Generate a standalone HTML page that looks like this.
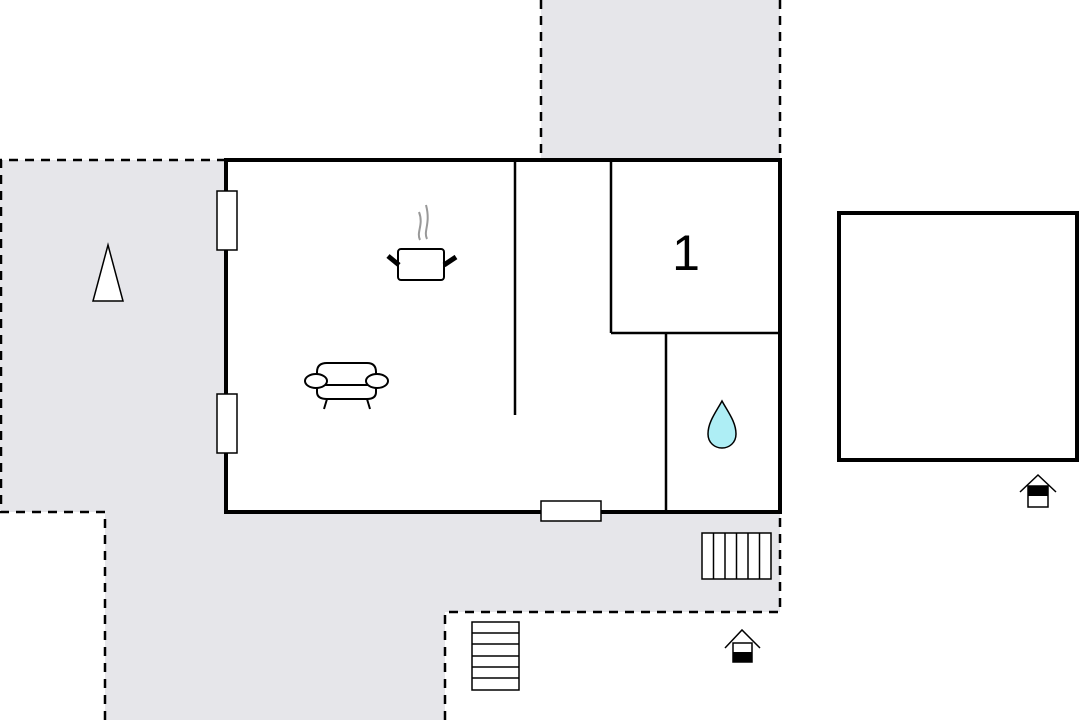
<!DOCTYPE html>
<html><head><meta charset="utf-8"><style>html,body{margin:0;padding:0;background:#fff}svg{display:block}</style></head>
<body>
<svg width="1080" height="720" viewBox="0 0 1080 720" xmlns="http://www.w3.org/2000/svg">
<g fill="#e6e6ea" stroke="none">
<rect x="541" y="0" width="239" height="162"/>
<polygon points="0,160 226,160 226,512 780,512 780,612 445,612 445,720 105,720 105,512 0,512"/>
</g>
<g fill="none" stroke="#000" stroke-width="2.5" stroke-dasharray="9,7">
<line x1="541" y1="0" x2="541" y2="160"/>
<line x1="780" y1="0" x2="780" y2="160"/>
<polyline points="226,160 1,160 1,512 105,512 105,720"/>
<polyline points="445,720 445,612 780,612 780,512"/>
</g>
<rect x="226" y="160" width="554" height="352" fill="#fff" stroke="#000" stroke-width="4"/>
<g stroke="#000" stroke-width="2.5">
<line x1="515" y1="160" x2="515" y2="415"/>
<line x1="611" y1="160" x2="611" y2="333"/>
<line x1="611" y1="333" x2="780" y2="333"/>
<line x1="666" y1="333" x2="666" y2="512"/>
</g>
<g fill="#fff" stroke="#000" stroke-width="1.5">
<rect x="217" y="191" width="20" height="59"/>
<rect x="217" y="394" width="20" height="59"/>
<rect x="541" y="501" width="60" height="20"/>
</g>
<text x="686" y="270" font-family="Liberation Sans, sans-serif" font-size="50" text-anchor="middle">1</text>
<path d="M722,401 C716,412 708,422 708,434 C708,443 715,448 722,448 C729,448 736,443 736,434 C736,422 728,412 722,401 Z" fill="#aeeef5" stroke="#000" stroke-width="1.5"/>
<rect x="839" y="213" width="238" height="247" fill="#fff" stroke="#000" stroke-width="4"/>
<g fill="#fff" stroke="#000" stroke-width="1.5">
<rect x="702" y="533" width="69" height="46"/>
<line x1="713.5" y1="533" x2="713.5" y2="579"/><line x1="725" y1="533" x2="725" y2="579"/><line x1="736.5" y1="533" x2="736.5" y2="579"/><line x1="748" y1="533" x2="748" y2="579"/><line x1="759.5" y1="533" x2="759.5" y2="579"/>
<rect x="472" y="622" width="47" height="68"/>
<line x1="472" y1="633" x2="519" y2="633"/><line x1="472" y1="644" x2="519" y2="644"/><line x1="472" y1="656" x2="519" y2="656"/><line x1="472" y1="667" x2="519" y2="667"/><line x1="472" y1="678" x2="519" y2="678"/>
<polygon points="108,245 123,301 93,301"/>
</g>
<g fill="none" stroke="#000" stroke-width="1.5">
<path d="M1020,492 L1038,475 L1056,492"/>
<rect x="1028" y="486" width="20" height="21" fill="#fff"/>
<path d="M725,648 L742,630 L760,648"/>
<rect x="733" y="643" width="19" height="19" fill="#fff"/>
</g>
<rect x="1028" y="486" width="20" height="10" fill="#000"/>
<rect x="733" y="652" width="19" height="10" fill="#000"/>
<g fill="none" stroke="#999" stroke-width="2">
<path d="M420,240 C416,232 424,225 419,212 M427,239 C423,231 431,224 426,205"/>
</g>
<rect x="398" y="249" width="46" height="31" rx="3" fill="#fff" stroke="#000" stroke-width="2"/>
<g stroke="#000" stroke-width="5" stroke-linecap="butt"><line x1="388" y1="256" x2="399" y2="265"/><line x1="456" y1="257" x2="444" y2="265"/></g>
<g fill="#fff" stroke="#000" stroke-width="2">
<path d="M317,388 L317,372 Q317,363 327,363 L367,363 Q376,363 376,372 L376,388"/>
<path d="M317,385 L317,392 Q317,399 327,399 L367,399 Q376,399 376,392 L376,385"/>
<line x1="320" y1="385" x2="374" y2="385"/>
<ellipse cx="316" cy="381" rx="11" ry="7"/>
<ellipse cx="377" cy="381" rx="11" ry="7"/>
<line x1="327" y1="399" x2="324" y2="409"/><line x1="367" y1="399" x2="370" y2="409"/>
</g>
</svg>
</body></html>
